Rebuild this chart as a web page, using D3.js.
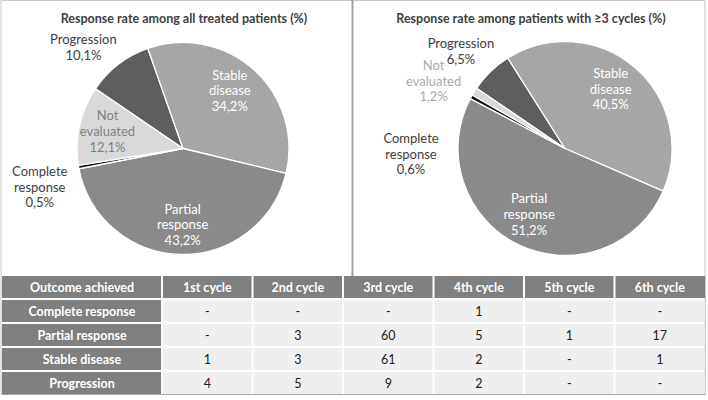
<!DOCTYPE html>
<html>
<head>
<meta charset="utf-8">
<script src="https://cdn.jsdelivr.net/npm/d3@7"></script>
<style>
  html, body { margin: 0; padding: 0; background: #fff; }
  svg { display: block; font-family: Lato, "Liberation Sans", sans-serif; }
</style>
</head>
<body>
<svg id="chart" width="708" height="400"></svg>
<script>
// ---------- data ----------
const outcomes = ["Progression", "Stable disease", "Partial response", "Complete response", "Not evaluated"];
const labelLines = [["Progression"], ["Stable", "disease"], ["Partial", "response"], ["Complete", "response"], ["Not", "evaluated"]];
const allTreatedPct = [10.1, 34.2, 43.2, 0.5, 12.1];
const atLeast3CyclesPct = [6.5, 40.5, 51.2, 0.6, 1.2];
const pieTitles = ["Response rate among all treated patients (%)", "Response rate among patients with \u22653 cycles (%)"];

const tableHeader = ["Outcome achieved", "1st cycle", "2nd cycle", "3rd cycle", "4th cycle", "5th cycle", "6th cycle"];
const tableOutcomes = ["Complete response", "Partial response", "Stable disease", "Progression"];
const completeByCycle = ["-", "-", "-", "1", "-", "-"];
const partialByCycle = ["-", "3", "60", "5", "1", "17"];
const stableByCycle = ["1", "3", "61", "2", "-", "1"];
const progressionByCycle = ["4", "5", "9", "2", "-", "-"];
const tableValues = [completeByCycle, partialByCycle, stableByCycle, progressionByCycle];

// ---------- styling / layout ----------
const sliceColors = ["#5e5e5e", "#a6a6a6", "#8a8a8a", "#141414", "#d9d9d9"];
const fmt = v => d3.format(".1f")(v).replace(".", ",") + "%";
const svg = d3.select("#chart");

// panel frame
svg.append("rect").attr("x", 1).attr("y", 0.5).attr("width", 704).attr("height", 394)
  .attr("fill", "none").attr("stroke", "#c8c8c8").attr("stroke-width", 1);
svg.append("line").attr("x1", 352.5).attr("x2", 352.5).attr("y1", 0).attr("y2", 276)
  .attr("stroke", "#a3a3a3").attr("stroke-width", 2);

const pies = [
  { values: allTreatedPct, cx: 183, cy: 148.5, r: 106, titleX: 184,
    // label placement: [angle nudge (deg), radius factor, colour]
    place: [[-7, 1.34, "#404040"], [-3, 0.70, "#ffffff"], [-1, 0.72, "#ffffff"], [-5, 1.40, "#404040"], [0, 0.73, "#808080"]] },
  { values: atLeast3CyclesPct, cx: 565, cy: 148.5, r: 107, titleX: 531,
    place: [[-3, 1.33, "#404040"], [-3, 0.70, "#ffffff"], [3, 0.70, "#ffffff"], [-31, 1.44, "#404040"], [-5, 1.38, "#ababab"]] }
];

const startDeg = -55.7;
const pieGen = d3.pie().sort(null).value(d => d)
  .startAngle(startDeg * Math.PI / 180).endAngle((startDeg + 360) * Math.PI / 180);

pies.forEach((p, pi) => {
  const g = svg.append("g").attr("transform", `translate(${p.cx},${p.cy})`);
  const arcs = pieGen(p.values);
  const arc = d3.arc().innerRadius(0).outerRadius(p.r);
  g.selectAll("path").data(arcs).join("path")
    .attr("d", arc)
    .attr("fill", (d, i) => sliceColors[i])
    .attr("stroke", "#ffffff").attr("stroke-width", 1.3).attr("stroke-linejoin", "round");

  svg.append("text").attr("x", p.titleX).attr("y", 22.5)
    .attr("text-anchor", "middle").attr("font-weight", "bold").attr("font-size", 12.5)
    .attr("fill", "#404040").text(pieTitles[pi]);

  arcs.forEach((a, i) => {
    const [nudge, rf, col] = p.place[i];
    const ang = (a.startAngle + a.endAngle) / 2 + nudge * Math.PI / 180;
    const x = Math.sin(ang) * p.r * rf;
    const y = -Math.cos(ang) * p.r * rf;
    const lines = labelLines[i].concat([fmt(p.values[i])]);
    const lh = 15.8;
    const t = g.append("text").attr("text-anchor", "middle").attr("font-size", 13).attr("fill", col);
    lines.forEach((ln, k) => {
      t.append("tspan").attr("x", x).attr("y", y + (k - (lines.length - 1) / 2) * lh + 4.5).text(ln);
    });
  });
});

// ---------- table ----------
const tableX0 = 2, tableX1 = 705, firstColW = 160;
const colX = d3.scaleBand().domain(d3.range(6)).range([tableX0 + firstColW, tableX1]);
const rowY = d3.scaleBand().domain(d3.range(5)).range([276, 396]);
const tg = svg.append("g");

// header row
tg.append("rect").attr("x", tableX0).attr("y", rowY(0)).attr("width", tableX1 - tableX0).attr("height", rowY.bandwidth() - 2)
  .attr("fill", "#808080");
tableHeader.forEach((h, i) => {
  const cx = i === 0 ? tableX0 + firstColW / 2 : colX(i - 1) + colX.bandwidth() / 2;
  tg.append("text").attr("x", cx).attr("y", rowY(0) + 15.5).attr("text-anchor", "middle")
    .attr("font-weight", "bold").attr("font-size", 12.5).attr("fill", "#ffffff").text(h);
});
// body rows
tableOutcomes.forEach((o, r) => {
  const y = rowY(r + 1);
  tg.append("rect").attr("x", tableX0).attr("y", y).attr("width", firstColW).attr("height", rowY.bandwidth() - 2)
    .attr("fill", "#808080");
  tg.append("rect").attr("x", tableX0 + firstColW).attr("y", y).attr("width", tableX1 - tableX0 - firstColW).attr("height", rowY.bandwidth() - 2)
    .attr("fill", "#efefef");
  tg.append("text").attr("x", tableX0 + firstColW / 2).attr("y", y + 15.5).attr("text-anchor", "middle")
    .attr("font-weight", "bold").attr("font-size", 12.5).attr("fill", "#ffffff").text(o);
  tableValues[r].forEach((v, c) => {
    tg.append("text").attr("x", colX(c) + colX.bandwidth() / 2).attr("y", y + 15.5).attr("text-anchor", "middle")
      .attr("font-size", 12.5).attr("fill", "#202020").text(v);
  });
});
// vertical white separators
d3.range(6).forEach(c => {
  tg.append("line").attr("x1", colX(c)).attr("x2", colX(c)).attr("y1", rowY(0)).attr("y2", 394)
    .attr("stroke", "#ffffff").attr("stroke-width", 2);
});
// bottom / right border
tg.append("line").attr("x1", tableX0).attr("x2", tableX1).attr("y1", 394.5).attr("y2", 394.5).attr("stroke", "#a8a8a8");
tg.append("line").attr("x1", tableX1 + 0.5).attr("x2", tableX1 + 0.5).attr("y1", 276).attr("y2", 395).attr("stroke", "#c8c8c8");
</script>
</body>
</html>
